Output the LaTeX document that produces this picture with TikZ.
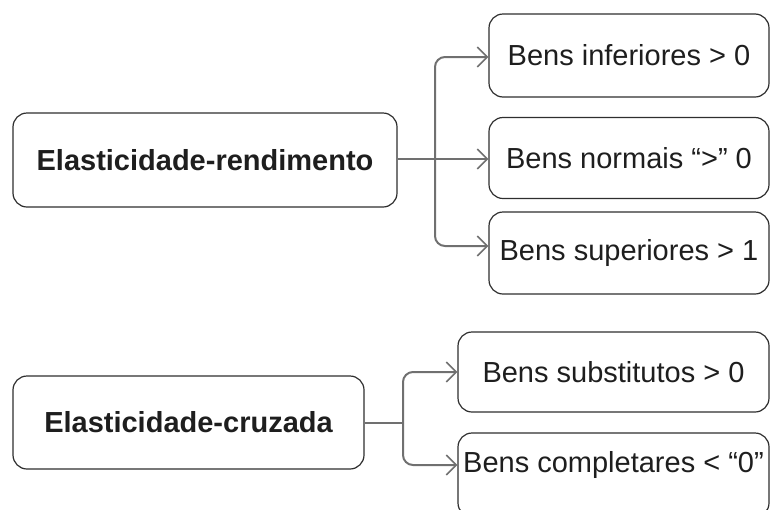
\documentclass[tikz,border=0pt]{standalone}
\usepackage{fontspec}
\setmainfont{Liberation Sans}
\usetikzlibrary{arrows.meta}
\definecolor{txt}{HTML}{1E1E1E}
\definecolor{edge}{HTML}{2E2E2E}
\definecolor{conn}{HTML}{707070}
\tikzset{
  box/.style={draw=edge, line width=1.2pt, rounded corners=14pt, inner sep=0pt, text=txt,
    font=\fontsize{29}{34}\selectfont},
  mainbox/.style={box, font=\fontsize{29}{34}\selectfont\bfseries},
  plain/.style={inner sep=0pt, text=txt, font=\fontsize{29}{34}\selectfont},
  link/.style={draw=conn, line width=2pt, rounded corners=10pt,
    -{Straight Barb[length=10pt,width=20pt,line width=1.6pt]}},
  linkplain/.style={draw=conn, line width=2pt}
}
\begin{document}
\begin{tikzpicture}[x=1pt,y=-1pt]
\clip (0,0) rectangle (770,509);
\useasboundingbox (0,0) rectangle (770,509);
% top group
\node[mainbox, minimum width=384pt, minimum height=94pt] (A) at (205,160) {Elasticidade-rendimento};
\node[box, minimum width=280pt, minimum height=83pt] (R1) at (629,55.5) {Bens inferiores > 0};
\node[box, minimum width=280pt, minimum height=81pt] (R2) at (629,158) {Bens normais “>” 0};
\node[box, minimum width=280pt, minimum height=82pt] (R3) at (629,253) {Bens superiores > 1};
\coordinate (j1) at (435,159);
\draw[link] (A.east|-j1) -- (R2.west|-j1);
\draw[link] (j1) |- (R1.west|-0,57);
\draw[link] (j1) |- (R3.west|-0,246);
% bottom group
\node[mainbox, minimum width=351pt, minimum height=93pt] (B) at (188.5,422.5) {Elasticidade-cruzada};
\node[box, minimum width=311pt, minimum height=80pt] (S1) at (613.5,372) {Bens substitutos > 0};
\node[box, minimum width=311pt, minimum height=84pt] (S2) at (613.5,475) {};
\node[plain] (S2t) at (613.5,465) {Bens completares < “0”};
\coordinate (j2) at (403,423);
\draw[linkplain] (B.east|-j2) -- (j2);
\draw[link] (j2) |- (S1.west|-0,372);
\draw[link] (j2) |- (S2.west|-S2t);
\end{tikzpicture}
\end{document}
